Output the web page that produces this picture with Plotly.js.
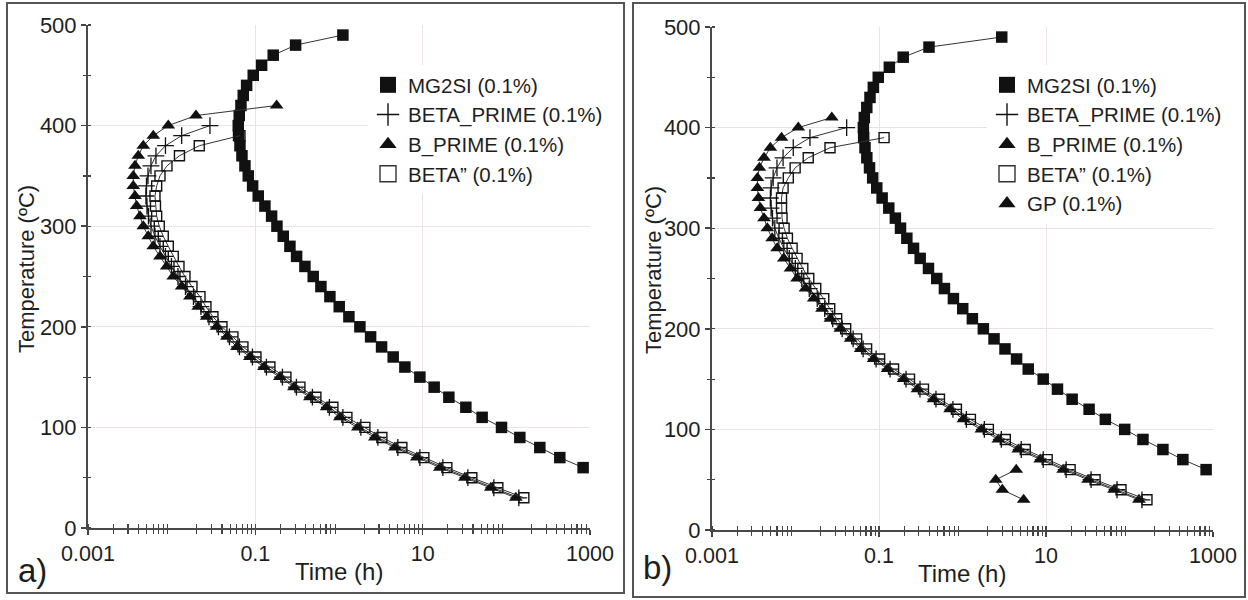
<!DOCTYPE html>
<html>
<head>
<meta charset="utf-8">
<script src="https://cdn.plot.ly/plotly-3.0.1.min.js"></script>
<style>html,body{margin:0;padding:0;background:#fff;}#chart{width:1248px;height:600px;}</style>
</head>
<body>
<div id="chart"></div>
<script>
// ---------- data (panel a) ----------
const tempMG = [490,480,470,460,450,440,430,420,410,400,390,380,370,360,350,340,330,320,310,300,290,280,270,260,250,240,230,220,210,200,190,180,170,160,150,140,130,120,110,100,90,80,70,60];
const timeMG_a = [1.113,0.303,0.1636,0.1189,0.0944,0.0787,0.0717,0.0673,0.0642,0.0625,0.0630,0.0655,0.0692,0.0751,0.0823,0.0928,0.1083,0.1302,0.1565,0.1812,0.2155,0.2591,0.3114,0.3915,0.4918,0.6078,0.7785,1.006,1.313,1.777,2.386,3.228,4.443,6.129,9.26,13.72,20.56,32.82,51.38,87.6,145,251.3,435.7,827.3];

const tempBetaP = [400,390,380,370,360,350,340,330,320,310,300,290,280,270,260,250,240,230,220,210,200,190,180,170,160,150,140,130,120,110,100,90,80,70,60,50,40,30];
const timeBetaP_a = [0.02868,0.01317,0.008431,0.006491,0.005658,0.00521,0.005,0.004932,0.005069,0.005282,0.005658,0.006318,0.007248,0.008431,0.009945,0.01189,0.01462,0.01822,0.02239,0.0279,0.03623,0.04904,0.06457,0.09235,0.1357,0.2108,0.3097,0.4811,0.7679,1.113,1.826,2.916,5.053,9.26,17.43,34.67,70.9,141.0];

const tempBP_a = [420,410,400,390,380,370,360,350,340,330,320,310,300,290,280,270,260,250,240,230,220,210,200,190,180,170,160,150,140,130,120,110,100,90,80,70,60,50,40,30];
const timeBP_a = [0.1797,0.01951,0.00911,0.00603,0.004578,0.00399,0.003643,0.003477,0.003477,0.003643,0.003818,0.004182,0.004578,0.005253,0.00603,0.007248,0.008716,0.01045,0.01317,0.01654,0.02079,0.02619,0.03448,0.04578,0.0603,0.08619,0.1267,0.1968,0.2891,0.449,0.7109,1.025,1.682,2.685,4.655,8.524,16.05,31.93,65.29,129.9];

const tempBeta2 = [390,380,370,360,350,340,330,320,310,300,290,280,270,260,250,240,230,220,210,200,190,180,170,160,150,140,130,120,110,100,90,80,70,60,50,40,30];
const timeBeta2_a = [0.0655,0.02137,0.01239,0.008787,0.007248,0.006617,0.006318,0.006405,0.006617,0.00711,0.007935,0.00911,0.01045,0.01223,0.01442,0.01748,0.02179,0.02569,0.03114,0.0399,0.05401,0.07108,0.1017,0.1494,0.232,0.341,0.5297,0.8455,1.243,2.039,3.254,5.642,10.33,19.46,38.71,79.14,161.9];

// ---------- data (panel b) ----------
const timeMG_b = [2.95,0.397,0.195,0.133,0.098,0.0855,0.078,0.0714,0.0667,0.065,0.0655,0.068,0.0715,0.077,0.084,0.094,0.109,0.131,0.157,0.181,0.2155,0.2591,0.3114,0.3915,0.4918,0.6078,0.7785,1.006,1.313,1.777,2.386,3.228,4.443,6.129,9.26,13.72,20.56,32.82,51.38,87.6,145,251.3,435.7,827.3];
const timeBetaP_b = [0.041,0.0149,0.0094,0.0071,0.0060,0.0054,0.0051,0.0050,0.0051,0.0053,0.005658,0.006318,0.007248,0.008431,0.009945,0.01189,0.01462,0.01822,0.02239,0.0279,0.03623,0.04904,0.06457,0.09235,0.1357,0.2108,0.3097,0.4811,0.7679,1.113,1.826,2.916,5.053,9.26,17.43,34.67,70.9,141.0];
const tempBP_b = [410,400,390,380,370,360,350,340,330,320,310,300,290,280,270,260,250,240,230,220,210,200,190,180,170,160,150,140,130,120,110,100,90,80,70,60,50,40,30];
const timeBP_b = [0.0272,0.0108,0.0068,0.0050,0.0042,0.0037,0.0035,0.0035,0.0036,0.0038,0.0042,0.0046,0.005253,0.00603,0.007248,0.008716,0.01045,0.01317,0.01654,0.02079,0.02619,0.03448,0.04578,0.0603,0.08619,0.1267,0.1968,0.2891,0.449,0.7109,1.025,1.682,2.685,4.655,8.524,16.05,31.93,65.29,129.9];
const timeBeta2_b = [0.115,0.0259,0.0142,0.0099,0.0082,0.0071,0.0068,0.0068,0.0069,0.0073,0.0080,0.00911,0.01045,0.01223,0.01442,0.01748,0.02179,0.02569,0.03114,0.0399,0.05401,0.07108,0.1017,0.1494,0.232,0.341,0.5297,0.8455,1.243,2.039,3.254,5.642,10.33,19.46,38.71,79.14,161.9];
const tempGP = [60,50,40,30];
const timeGP = [4.4,2.5,3.0,5.4];

// ---------- labels ----------
const seriesNames = ['MG2SI (0.1%)','BETA_PRIME (0.1%)','B_PRIME (0.1%)','BETA\u201d (0.1%)','GP (0.1%)'];
const xTickVals = [0.001,0.1,10,1000];
const xTickText = ['0.001','0.1','10','1000'];
const yTickVals = [0,100,200,300,400,500];
const yTickText = ['0','100','200','300','400','500'];
const xTitle = 'Time (h)';
const yTitle = 'Temperature (\u00baC)';
const panelLabels = ['a)','b)'];

// ---------- styles ----------
const W = 1248, H = 600;
const FONT = 'Liberation Sans, Arial, Helvetica, sans-serif';
const INK = '#111111';
const TXT = '#1e1e1e';
const LINE = {color:'#333333', width:1};
const styles = [
  {symbol:'square', size:11.5, color:INK, line:{width:0}},
  {symbol:'cross-thin-open', size:12, color:INK, line:{width:1.3, color:INK}},
  {symbol:'triangle-up', size:12, color:INK, line:{width:0}},
  {symbol:'square-open', size:10, color:INK, line:{width:1.4, color:INK}},
  {symbol:'triangle-up', size:12, color:INK, line:{width:0}}
];
const legendStyles = [
  {symbol:'square', size:16, color:INK, line:{width:0}},
  {symbol:'cross-thin-open', size:16, color:INK, line:{width:1.4, color:INK}},
  {symbol:'triangle-up', size:15, color:INK, line:{width:0}},
  {symbol:'square-open', size:16, color:'#333', line:{width:1.4, color:'#333'}},
  {symbol:'triangle-up', size:15, color:INK, line:{width:0}}
];

// minor tick positions on the log axis (2..9 of each decade, plus unlabeled decades)
const minorX = [];
for (let e = -3; e < 3; e++) {
  for (let m = 1; m <= 9; m++) {
    const v = +(m * Math.pow(10, e)).toPrecision(6);
    if (m > 1 || e % 2 !== 0) minorX.push(v);
  }
}

function dataTrace(x, y, idx, xa, ya) {
  return {x:x, y:y, type:'scatter', mode:'lines+markers', xaxis:xa, yaxis:ya,
          line:LINE, marker:styles[idx], showlegend:false, hoverinfo:'skip'};
}
function legendTrace(idx, xa, ya, lg) {
  return {x:[null], y:[null], type:'scatter', mode:'markers', xaxis:xa, yaxis:ya,
          name:seriesNames[idx], marker:legendStyles[idx], legend:lg, showlegend:true};
}
function emptyTrace(xa, ya) {
  return {x:[], y:[], type:'scatter', mode:'markers', xaxis:xa, yaxis:ya, showlegend:false, hoverinfo:'skip'};
}

const traces = [
  dataTrace(timeMG_a, tempMG, 0, 'x', 'y'),
  dataTrace(timeBetaP_a, tempBetaP, 1, 'x', 'y'),
  dataTrace(timeBP_a, tempBP_a, 2, 'x', 'y'),
  dataTrace(timeBeta2_a, tempBeta2, 3, 'x', 'y'),
  dataTrace(timeMG_b, tempMG, 0, 'x2', 'y2'),
  dataTrace(timeBetaP_b, tempBetaP, 1, 'x2', 'y2'),
  dataTrace(timeBP_b, tempBP_b, 2, 'x2', 'y2'),
  dataTrace(timeBeta2_b, tempBeta2, 3, 'x2', 'y2'),
  dataTrace(timeGP, tempGP, 4, 'x2', 'y2'),
  emptyTrace('x3','y'), emptyTrace('x','y3'), emptyTrace('x4','y2'), emptyTrace('x2','y4'),
  legendTrace(0,'x','y','legend'), legendTrace(1,'x','y','legend'), legendTrace(2,'x','y','legend'), legendTrace(3,'x','y','legend'),
  legendTrace(0,'x2','y2','legend2'), legendTrace(1,'x2','y2','legend2'), legendTrace(2,'x2','y2','legend2'), legendTrace(3,'x2','y2','legend2'), legendTrace(4,'x2','y2','legend2')
];

function xAxis(domain, anchor) {
  return {
    type:'log', range:[-3,3], domain:domain, anchor:anchor,
    tickmode:'array', tickvals:xTickVals, ticktext:xTickText,
    ticks:'outside', ticklen:5, tickwidth:1.5, tickcolor:'#444',
    showline:true, linecolor:'#4a4a4a', linewidth:2,
    showgrid:true, gridcolor:'#ebe3e3', gridwidth:1, zeroline:false,
    minor:{tickmode:'array', tickvals:minorX, ticks:'outside', ticklen:4, tickwidth:1.2, tickcolor:'#444', showgrid:false},
    tickfont:{size:21.5, color:TXT, family:FONT},
    fixedrange:true
  };
}
function xOverlay(over, anchor) {
  return {
    type:'log', range:[-3,3], overlaying:over, anchor:anchor,
    tickmode:'array', tickvals:xTickVals, ticks:'', showticklabels:false,
    showline:false, showgrid:false, zeroline:false,
    minor:{tickmode:'array', tickvals:minorX, ticks:'inside', ticklen:4, tickwidth:1.2, tickcolor:'#444', showgrid:false},
    fixedrange:true
  };
}
function yAxis(domain, anchor) {
  return {
    range:[0,500], domain:domain, anchor:anchor,
    tickmode:'array', tickvals:yTickVals, ticktext:yTickText,
    ticks:'outside', ticklen:5, tickwidth:1.5, tickcolor:'#444',
    showline:true, linecolor:'#4a4a4a', linewidth:2,
    showgrid:true, gridcolor:'#ebe3e3', gridwidth:1, zeroline:false,
    minor:{dtick:50, ticks:'outside', ticklen:3, tickwidth:1.2, tickcolor:'#444', showgrid:false},
    tickfont:{size:22, color:TXT, family:FONT},
    fixedrange:true
  };
}
function yOverlay(over, anchor) {
  return {
    range:[0,500], overlaying:over, anchor:anchor,
    tickmode:'array', tickvals:yTickVals, ticks:'', showticklabels:false,
    showline:false, showgrid:false, zeroline:false,
    minor:{dtick:50, ticks:'inside', ticklen:3, tickwidth:1.2, tickcolor:'#444', showgrid:false},
    fixedrange:true
  };
}

function txt(text, x, y, size, extra) {
  return Object.assign({text:text, xref:'paper', yref:'paper', x:x/W, y:1-y/H,
    xanchor:'center', yanchor:'middle', showarrow:false, font:{size:size, color:TXT, family:FONT}}, extra||{});
}

const layout = {
  width:W, height:H,
  margin:{l:0, r:0, t:0, b:0},
  paper_bgcolor:'#ffffff', plot_bgcolor:'#ffffff',
  font:{family:FONT, color:TXT},
  xaxis: xAxis([88/W, 590/W], 'y'),
  yaxis: yAxis([1-528/H, 1-25/H], 'x'),
  xaxis2: xAxis([712/W, 1213/W], 'y2'),
  yaxis2: yAxis([1-530/H, 1-27/H], 'x2'),
  xaxis3: xOverlay('x', 'y'),
  yaxis3: yOverlay('y', 'x'),
  xaxis4: xOverlay('x2', 'y2'),
  yaxis4: yOverlay('y2', 'x2'),
  legend:{x:368/W, y:1-65/H, xanchor:'left', yanchor:'top', bgcolor:'#ffffff', borderwidth:0,
          font:{size:20.5, color:TXT, family:FONT}, tracegroupgap:0, itemclick:false, itemdoubleclick:false},
  legend2:{x:987/W, y:1-65/H, xanchor:'left', yanchor:'top', bgcolor:'#ffffff', borderwidth:0,
          font:{size:20.5, color:TXT, family:FONT}, tracegroupgap:0, itemclick:false, itemdoubleclick:false},
  shapes:[
    {type:'rect', xref:'paper', yref:'paper', x0:7/W, x1:624/W, y0:1-593/H, y1:1-3/H, line:{color:'#555', width:2}},
    {type:'rect', xref:'paper', yref:'paper', x0:633/W, x1:1245/W, y0:1-597/H, y1:1-3/H, line:{color:'#555', width:2}}
  ],
  annotations:[
    txt(yTitle, 27, 269, 22, {textangle:-90}),
    txt(yTitle, 653, 270, 22, {textangle:-90}),
    txt(xTitle, 339, 571, 24),
    txt(xTitle, 962, 573, 24),
    txt(panelLabels[0], 16, 570, 33, {xanchor:'left'}),
    txt(panelLabels[1], 641, 567, 33, {xanchor:'left'})
  ]
};

Plotly.newPlot('chart', traces, layout, {displayModeBar:false, staticPlot:true});
</script>
</body>
</html>
